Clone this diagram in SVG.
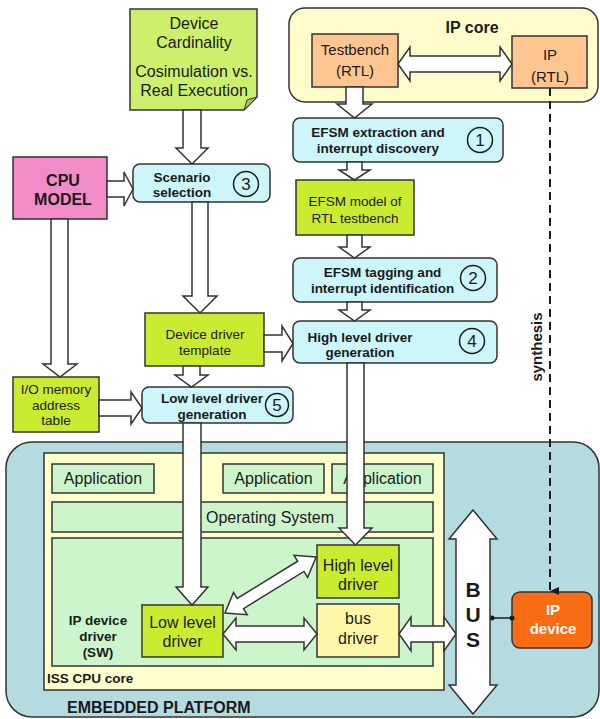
<svg xmlns="http://www.w3.org/2000/svg" width="600" height="719" viewBox="0 0 600 719">
<defs>
<style>
.bx{stroke:#333;stroke-width:1.5}
.arr{fill:#fff;stroke:#333;stroke-width:1.5;stroke-linejoin:miter}
text{font-family:"Liberation Sans",Arial,sans-serif;fill:#1a1a1a;text-anchor:middle}
.b{font-weight:bold}
.s13{font-size:13.5px}
.s15{font-size:15px}
.s16{font-size:16px}
.num{font-size:17px}
.circ{fill:none;stroke:#1a1a1a;stroke-width:1.5}
.cyan{fill:#ccf6fa}
.lime{fill:#c9ec30}
.lgreen{fill:#ccf5cc}
</style>
<marker id="tri" markerWidth="10" markerHeight="10" refX="5" refY="9" orient="auto" markerUnits="userSpaceOnUse" viewBox="0 0 10 10">
<path d="M1,0 L9,0 L5,9 Z" fill="#1a1a1a"/>
</marker>
</defs>
<rect width="600" height="719" fill="#fff"/>

<!-- containers -->
<g id="ip-core">
<rect class="bx" x="289" y="8" width="309" height="94" rx="16" fill="#fffccc"/>
<text class="b s16" x="472" y="33">IP core</text>
</g>
<g id="embedded-platform">
<rect class="bx" x="6" y="442" width="593" height="275" rx="26" fill="#b4dce0"/>
<text class="b s16" x="67" y="713" style="text-anchor:start">EMBEDDED PLATFORM</text>
</g>
<g id="iss-cpu-core">
<rect class="bx" x="44" y="453" width="400" height="237" fill="#ffffcc"/>
<text class="b s13" x="47" y="683" style="text-anchor:start">ISS CPU core</text>
</g>

<!-- top nodes -->
<g id="note">
<path class="bx" d="M130,9 H257 V97 L244,110 H130 Z" fill="#cdf06c"/>
<path d="M244,110 L247,100 L257,97 Z" fill="#a8c850" stroke="#333" stroke-width="1"/>
<text class="s16" x="194" y="29">Device</text>
<text class="s16" x="194" y="48">Cardinality</text>
<text class="s16" x="194" y="77">Cosimulation vs.</text>
<text class="s16" x="194" y="96">Real Execution</text>
</g>
<g id="testbench">
<rect class="bx" x="312" y="34" width="86" height="53" fill="#fdc690"/>
<text class="s15" x="355" y="55">Testbench</text>
<text class="s15" x="355" y="76">(RTL)</text>
</g>
<g id="ip-rtl">
<rect class="bx" x="512" y="36" width="75" height="52" fill="#fdc690"/>
<text class="s15" x="550" y="60">IP</text>
<text class="s15" x="550" y="82">(RTL)</text>
</g>
<g id="efsm-extraction">
<rect class="bx cyan" x="293" y="118" width="210" height="44" rx="7"/>
<text class="b s13" x="378" y="137">EFSM extraction and</text>
<text class="b s13" x="378" y="153">interrupt discovery</text>
<circle class="circ" cx="480" cy="140" r="12.5"/>
<text class="num" x="480" y="146">1</text>
</g>
<g id="cpu-model">
<rect class="bx" x="13" y="157" width="94" height="62" fill="#f28cc8"/>
<text class="b s16" x="63" y="186">CPU</text>
<text class="b s16" x="63" y="205">MODEL</text>
</g>
<g id="scenario-selection">
<rect class="bx cyan" x="133" y="164" width="137" height="38" rx="7"/>
<text class="b s13" x="182" y="182">Scenario</text>
<text class="b s13" x="182" y="197">selection</text>
<circle class="circ" cx="246" cy="184" r="12.5"/>
<text class="num" x="246" y="190">3</text>
</g>
<g id="efsm-model">
<rect class="bx lime" x="296" y="180" width="118" height="55"/>
<text class="s13" x="355" y="206">EFSM model of</text>
<text class="s13" x="355" y="223">RTL testbench</text>
</g>
<g id="efsm-tagging">
<rect class="bx cyan" x="293" y="258" width="204" height="44" rx="7"/>
<text class="b s13" x="382.5" y="277">EFSM tagging and</text>
<text class="b s13" x="382.5" y="293">interrupt identification</text>
<circle class="circ" cx="473" cy="278" r="12.5"/>
<text class="num" x="473" y="284">2</text>
</g>
<g id="device-driver-template">
<rect class="bx lime" x="145" y="313" width="119" height="53"/>
<text class="s13" x="205" y="339">Device driver</text>
<text class="s13" x="205" y="355">template</text>
</g>
<g id="high-level-driver-generation">
<rect class="bx cyan" x="293" y="321" width="204" height="42" rx="7"/>
<text class="b s13" x="360" y="342">High level driver</text>
<text class="b s13" x="360" y="357">generation</text>
<circle class="circ" cx="472" cy="341" r="12.5"/>
<text class="num" x="472" y="347">4</text>
</g>
<g id="io-memory-table">
<rect class="bx lime" x="13" y="377" width="86" height="55"/>
<text class="s13" x="56" y="394">I/O memory</text>
<text class="s13" x="56" y="410">address</text>
<text class="s13" x="56" y="425">table</text>
</g>
<g id="low-level-driver-generation">
<rect class="bx cyan" x="142" y="387" width="151" height="36" rx="7"/>
<text class="b s13" x="212" y="403">Low level driver</text>
<text class="b s13" x="212" y="419">generation</text>
<circle class="circ" cx="277" cy="405" r="11.5"/>
<text class="num" x="277" y="411">5</text>
</g>

<!-- platform nodes -->
<g id="application-1">
<rect class="bx lgreen" x="52" y="464" width="102" height="29"/>
<text class="s16" x="103" y="484">Application</text>
</g>
<g id="application-2">
<rect class="bx lgreen" x="223" y="464" width="101" height="29"/>
<text class="s16" x="273.5" y="484">Application</text>
</g>
<g id="application-3">
<rect class="bx lgreen" x="332" y="464" width="101" height="29"/>
<text class="s16" x="382.5" y="484">Application</text>
</g>
<g id="operating-system">
<rect class="bx lgreen" x="52" y="502" width="381" height="30"/>
<text class="s16" x="270" y="523">Operating System</text>
</g>
<g id="ip-device-driver">
<rect class="bx lgreen" x="52" y="538" width="381" height="128"/>
<text class="b s13" x="98" y="625">IP device</text>
<text class="b s13" x="98" y="641">driver</text>
<text class="b s13" x="98" y="657">(SW)</text>
</g>
<g id="low-level-driver">
<rect class="bx lime" x="142" y="605" width="81" height="52"/>
<text class="s16" x="182.5" y="628">Low level</text>
<text class="s16" x="182.5" y="647">driver</text>
</g>
<g id="high-level-driver">
<rect class="bx lime" x="317" y="545" width="82" height="53"/>
<text class="s16" x="358" y="571">High level</text>
<text class="s16" x="358" y="590">driver</text>
</g>
<g id="bus-driver">
<rect class="bx" x="317" y="604" width="82" height="53" fill="#fcf8a8"/>
<text class="s16" x="358" y="624">bus</text>
<text class="s16" x="358" y="644">driver</text>
</g>
<g id="ip-device">
<rect class="bx" x="512" y="592" width="80" height="56" rx="8" fill="#f86c14"/>
<text class="b s15" x="553" y="615" style="fill:#fff">IP</text>
<text class="b s15" x="553" y="634" style="fill:#fff">device</text>
</g>

<!-- connectors -->
<g id="connectors">
<path class="arr" d="M398 64 L410 47 V56 H500 V47 L512 64 L500 81 V72 H410 V81 Z"/>
<path class="arr" d="M346 87 V104 H337 L354.5 118 L372 104 H363 V87 Z"/>
<path class="arr" d="M183 110 V148 H176 L192 164 L208 148 H201 V110 Z"/>
<path class="arr" d="M107 181 H124 V172 L133 189 L124 206 V197 H107 Z"/>
<path class="arr" d="M192 202 V296 H183 L200 313 L217 296 H208 V202 Z"/>
<path class="arr" d="M51 219 V364 H43 L60 377 L77 364 H68 V219 Z"/>
<path class="arr" d="M347 162 V170 H339 L354.5 180 L370 170 H362 V162 Z"/>
<path class="arr" d="M347 235 V247 H339 L354.5 258 L370 247 H362 V235 Z"/>
<path class="arr" d="M347 302 V310 H339 L354.5 321 L370 310 H362 V302 Z"/>
<path class="arr" d="M264 335 H282 V326 L293 343.5 L282 361 V352 H264 Z"/>
<path class="arr" d="M183 366 V375 H175 L191.5 387 L208 375 H200 V366 Z"/>
<path class="arr" d="M99 400 H131 V392 L142 408 L131 424 V416 H99 Z"/>
<path class="arr" d="M183 423 V587 H176 L192 605 L208 587 H201 V423 Z"/>
<path class="arr" d="M347 363 V528 H339 L355.5 545 L372 528 H364 V363 Z"/>
<path class="arr" transform="translate(225 613) rotate(-31.6)" d="M0,0 L18,-13 L18,-6 L89,-6 L89,-13 L107,0 L89,13 L89,6 L18,6 L18,13 Z"/>
<path class="arr" d="M223 634 L236 618 V626 H304 V618 L317 634 L304 650 V642 H236 V650 Z"/>
<path class="arr" d="M399 634 L411 617 V626 H444 V617 L456 634 L444 651 V642 H411 V651 Z"/>
<line x1="550" y1="88" x2="550" y2="591" stroke="#1a1a1a" stroke-width="2" stroke-dasharray="8 5" marker-end="url(#tri)"/>
<text class="b s15" transform="translate(542 347) rotate(-90)">synthesis</text>
<line x1="492" y1="618" x2="512" y2="618" stroke="#1a1a1a" stroke-width="1.5"/>
<circle cx="492" cy="618" r="2.5" fill="#1a1a1a"/>
<circle cx="512" cy="618" r="2.5" fill="#1a1a1a"/>
</g>

<g id="bus">
<path class="arr" d="M473 510 L497 539 H490 V685 H497 L473 714 L449 685 H456 V539 H449 Z"/>
<text class="b" x="473" y="597" style="font-size:21px">B</text>
<text class="b" x="473" y="622" style="font-size:21px">U</text>
<text class="b" x="473" y="647" style="font-size:21px">S</text>
</g>
</svg>
